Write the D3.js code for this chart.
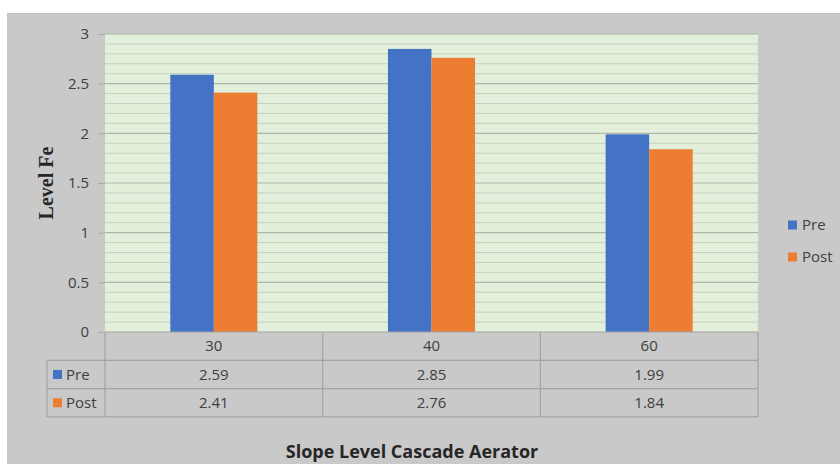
<!DOCTYPE html>
<html><head><meta charset="utf-8">
<script src="https://cdn.jsdelivr.net/npm/d3@7"></script>
<style>body{margin:0;background:#fff}svg{display:block}</style>
</head><body>
<svg id="c" width="840" height="464"></svg>
<script>
const categories = ["30", "40", "60"];
const seriesNames = ["Pre", "Post"];
const preValues = [2.59, 2.85, 1.99];
const postValues = [2.41, 2.76, 1.84];
const yTicks = [0, 0.5, 1, 1.5, 2, 2.5, 3];
const xTitle = "Slope Level Cascade Aerator";
const yTitle = "Level Fe";
const colors = ["#4472C4", "#ED7D31"];

const series = [preValues, postValues];
const svg = d3.select("#c");
const font = "'Open Sans', 'Noto Sans', sans-serif";
const fs = 15;

svg.append("rect").attr("x", 7).attr("y", 13).attr("width", 833).attr("height", 451)
  .attr("fill", "#C9C9C9");
svg.append("line").attr("x1", 7).attr("x2", 840).attr("y1", 13.5).attr("y2", 13.5)
  .attr("stroke", "#BDBDBD");

const L = 105, R = 758, T = 34, B = 332;
const y = d3.scaleLinear().domain([0, 3]).range([B, T]);
const x = d3.scaleBand().domain(categories).range([L, R]).paddingInner(0.6).paddingOuter(0.3);
const xs = d3.scaleBand().domain(seriesNames).range([0, x.bandwidth()]);

svg.append("rect").attr("x", L).attr("y", T).attr("width", R - L).attr("height", B - T)
  .attr("fill", "#E2EFDA");

// minor grid
const minor = d3.range(1, 30).map(i => i / 10).filter(v => Math.abs(v * 2 - Math.round(v * 2)) > 1e-6);
svg.append("g").selectAll("line").data(minor).join("line")
  .attr("x1", L).attr("x2", R).attr("y1", d => y(d)).attr("y2", d => y(d))
  .attr("stroke", "#C5D0BF").attr("stroke-width", 1);

// major grid + y axis
const yAxis = d3.axisLeft(y).tickValues(yTicks).tickSize(7).tickPadding(9).tickFormat(d3.format("~g"));
const ga = svg.append("g").attr("transform", `translate(${L},0)`).call(yAxis);
ga.select(".domain").remove();
ga.selectAll(".tick line").attr("stroke", "#A6ADA3");
ga.selectAll(".tick text").attr("font-family", font).attr("font-size", fs).attr("fill", "#404040");
svg.append("g").selectAll("line").data(yTicks.slice(1)).join("line")
  .attr("x1", L).attr("x2", R).attr("y1", d => y(d)).attr("y2", d => y(d))
  .attr("stroke", "#AEB7A9").attr("stroke-width", 1.2);

// bars
const g = svg.append("g");
categories.forEach((c, i) => {
  seriesNames.forEach((s, j) => {
    g.append("rect")
      .attr("x", x(c) + xs(s)).attr("width", xs.bandwidth())
      .attr("y", y(series[j][i])).attr("height", y(0) - y(series[j][i]))
      .attr("fill", colors[j]);
  });
});

// data table
const rowH = 28.3;
const tl = "#A3A3A3";
const tb = svg.append("g");
const step = x.step();
const edges = categories.map((c, i) => L + i * step).concat([R]);
[1, 2, 3].forEach(r => {
  tb.append("line").attr("x1", 47).attr("x2", R).attr("y1", B + r * rowH).attr("y2", B + r * rowH)
    .attr("stroke", tl).attr("stroke-width", 1.2);
});
tb.append("line").attr("x1", L).attr("x2", R).attr("y1", B).attr("y2", B).attr("stroke", tl).attr("stroke-width", 1.2);
edges.forEach(e => {
  tb.append("line").attr("x1", e).attr("x2", e).attr("y1", B).attr("y2", B + 3 * rowH)
    .attr("stroke", tl).attr("stroke-width", 1.2);
});
tb.append("line").attr("x1", 47).attr("x2", 47).attr("y1", B + rowH).attr("y2", B + 3 * rowH)
  .attr("stroke", tl).attr("stroke-width", 1.2);

categories.forEach((c, i) => {
  const cx = x(c) + x.bandwidth() / 2;
  tb.append("text").attr("x", cx).attr("y", B + rowH / 2).attr("dy", "0.35em")
    .attr("text-anchor", "middle").attr("font-family", font).attr("font-size", fs)
    .attr("fill", "#404040").text(c);
  series.forEach((vals, j) => {
    tb.append("text").attr("x", cx).attr("y", B + rowH * (j + 1.5)).attr("dy", "0.35em")
      .attr("text-anchor", "middle").attr("font-family", font).attr("font-size", fs)
      .attr("fill", "#404040").text(d3.format(".2f")(vals[i]));
  });
});
seriesNames.forEach((s, j) => {
  const cy = B + rowH * (j + 1.5);
  tb.append("rect").attr("x", 53).attr("y", cy - 4.5).attr("width", 9).attr("height", 9).attr("fill", colors[j]);
  tb.append("text").attr("x", 66).attr("y", cy).attr("dy", "0.35em").attr("font-family", font)
    .attr("font-size", fs).attr("fill", "#404040").text(s);
});

// legend
seriesNames.forEach((s, j) => {
  const cy = 225 + j * 32;
  svg.append("rect").attr("x", 788).attr("y", cy - 4.5).attr("width", 9).attr("height", 9).attr("fill", colors[j]);
  svg.append("text").attr("x", 802).attr("y", cy).attr("dy", "0.35em").attr("font-family", font)
    .attr("font-size", fs).attr("fill", "#404040").text(s);
});

// titles
svg.append("text").attr("x", 412).attr("y", 452).attr("dy", "0.35em").attr("text-anchor", "middle")
  .attr("font-family", font).attr("font-weight", "bold").attr("font-size", 18).attr("fill", "#262626")
  .text(xTitle);
svg.append("text").attr("transform", "translate(46,183) rotate(-90)").attr("dy", "0.35em")
  .attr("text-anchor", "middle").attr("font-family", "'Liberation Serif', serif").attr("font-weight", "bold")
  .attr("font-size", 20).attr("fill", "#262626").text(yTitle);
</script>
</body></html>
